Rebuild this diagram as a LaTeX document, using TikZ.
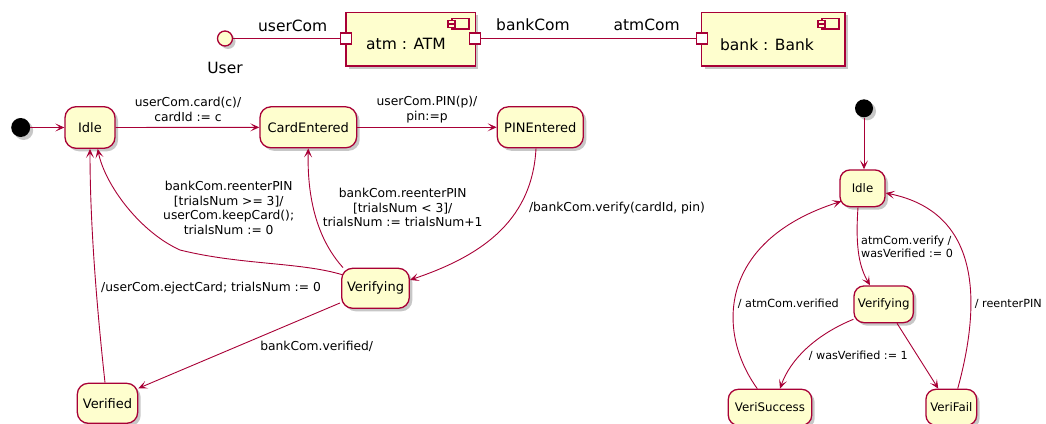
\documentclass[tikz,border=0pt]{standalone}
\usepackage{fontspec}
\setmainfont{DejaVu Sans}
\usetikzlibrary{arrows.meta,shadows}
\definecolor{umlred}{HTML}{A80036}
\definecolor{umlfill}{HTML}{FEFECE}
\begin{document}
\begin{tikzpicture}[x=1pt,y=-1pt,
  shad/.style={drop shadow={shadow xshift=3pt,shadow yshift=-3pt,fill=black,opacity=0.22}},
  st/.style={draw=umlred,fill=umlfill,line width=1.3pt,rounded corners=11pt,inner sep=0pt,font=\fontsize{13}{15}\selectfont,shad},
  sst/.style={st,font=\fontsize{11.8}{14}\selectfont,rounded corners=10pt},
  lbl/.style={font=\fontsize{12.3}{14.7}\selectfont,align=center,inner sep=0pt},
  slbl/.style={font=\fontsize{11.2}{12.7}\selectfont,align=center,inner sep=0pt},
  tr/.style={draw=umlred,line width=0.9pt,-{Stealth[length=9pt,width=8pt,inset=4.5pt]}},
  initdot/.style={circle,fill=black,minimum size=19pt,inner sep=0pt,shad},
  comp/.style={draw=umlred,fill=umlfill,line width=1.3pt,shad,inner sep=0pt},
  port/.style={draw=umlred,fill=white,line width=1.3pt,minimum size=11pt,inner sep=0pt},
  clbl/.style={font=\fontsize{15.5}{18}\selectfont,inner sep=0pt},
  conn/.style={draw=umlred,line width=0.9pt},
]
\useasboundingbox (0,0) rectangle (1046,423);

% ---------- component part ----------
\node[circle,draw=umlred,fill=umlfill,line width=1.3pt,minimum size=15pt,inner sep=0pt,shad] (user) at (225,38.5) {};
\node[clbl] (userlbl) at (225,68) {User};
\node[comp,minimum width=129.3pt,minimum height=53.7pt] (atm) at (410.65,39.15) {};
\node[clbl] (atmtxt) at (406,44.3) {atm : ATM};
\node[comp,minimum width=143.3pt,minimum height=53.7pt] (bank) at (773.35,39.15) {};
\node[clbl] (banktxt) at (767,44.3) {bank : Bank};
% component icons
\foreach \bx in {452,822}{
  \draw[umlred,line width=1.1pt,fill=umlfill] (\bx,18.5) rectangle (\bx+17,29);
  \draw[umlred,line width=1.1pt,fill=umlfill] (\bx-4,20.5) rectangle (\bx+3,23.2);
  \draw[umlred,line width=1.1pt,fill=umlfill] (\bx-4,24.5) rectangle (\bx+3,27.2);
}
\node[port] (p1) at (346,38.5) {};
\node[port] (p2) at (475.3,38.5) {};
\node[port] (p3) at (701.7,38.5) {};
\draw[conn] (user) -- (p1);
\draw[conn] (p2) -- (p3);
\node[clbl] (l1) at (292.7,26) {userCom};
\node[clbl] (l2) at (533,25) {bankCom};
\node[clbl] (l3) at (646.7,25) {atmCom};

% ---------- ATM state machine ----------
\node[initdot] (i1) at (20.7,127.5) {};
\node[st,minimum width=50pt,minimum height=41.6pt] (idle) at (90,127.5) {Idle};
\node[st,minimum width=96.7pt,minimum height=41pt] (card) at (308.3,127.3) {CardEntered};
\node[st,minimum width=86pt,minimum height=41pt] (pin) at (540.3,127.3) {PINEntered};
\node[st,minimum width=67.6pt,minimum height=40pt] (ver) at (375.5,288.3) {Verifying};
\node[st,minimum width=60.4pt,minimum height=40pt] (vd) at (107.5,403.3) {Verified};

\draw[tr] (i1) -- (idle);
\draw[tr] (idle) -- (card);
\node[lbl] (e1) at (188,109.3) {userCom.card(c)/\\cardId := c};
\draw[tr] (card) -- (pin);
\node[lbl] (e2) at (427,109.3) {userCom.PIN(p)/\\pin:=p};
\draw[tr] (pin.south -| 536,0) .. controls (532,225) and (475,258) .. (ver.east |- 0,280);
\node[lbl] (e3) at (617,208) {/bankCom.verify(cardId, pin)};
\coordinate (v1) at ([shift={(2,0)}]ver.north west);
\coordinate (v2) at ([shift={(1,7)}]ver.north west);
\coordinate (v3) at ([shift={(-1,-6)}]ver.south west);
\draw[tr] (v1) .. controls (318,240) and (307,200) .. (card.south);
\draw[tr] (v2) .. controls (300,262) and (240,265) .. (180,250) .. controls (140,232) and (105,185) .. (idle.south -| 97.7,0);
\node[lbl] (e4) at (228.7,208) {bankCom.reenterPIN\\{}[trialsNum >= 3]/\\userCom.keepCard();\\trialsNum := 0};
\node[lbl] (e5) at (402.7,207.7) {bankCom.reenterPIN\\{}[trialsNum < 3]/\\trialsNum := trialsNum+1};
\draw[tr] (vd.north -| 105,0) .. controls (96,300) and (90,220) .. (idle.south -| 90,0);
\node[lbl] (e6) at (211,288.3) {/userCom.ejectCard; trialsNum := 0};
\draw[tr] (v3) -- (vd.north east |- 0,388.3);
\node[lbl] (e7) at (316.7,346.7) {bankCom.verified/};

% ---------- Bank state machine ----------
\node[initdot,minimum size=18pt] (i2) at (864,108.3) {};
\node[sst,minimum width=45pt,minimum height=36.7pt] (idle2) at (862.5,188.3) {Idle};
\node[sst,minimum width=59.3pt,minimum height=36.7pt] (ver2) at (883.7,304.3) {Verifying};
\node[sst,minimum width=83.4pt,minimum height=36pt] (succ) at (770,407.3) {VeriSuccess};
\node[sst,minimum width=50.7pt,minimum height=36pt] (fail) at (951.3,407.3) {VeriFail};

\coordinate (w1) at ([shift={(0,-4)}]ver2.south west);
\coordinate (ia) at ([shift={(2,-6)}]idle2.south west);
\draw[tr] (i2) -- (idle2.north -| i2);
\draw[tr] (idle2.south -| 858,0) .. controls (855,250) and (860,268) .. (ver2.north -| 870,0);
\node[slbl,align=left,anchor=west] (e8) at (861,247) {atmCom.verify /\\wasVerified := 0};
\draw[tr] (w1) .. controls (815,335) and (790,360) .. (succ.north -| 780,0);
\node[slbl] (e9) at (858.3,356) {/ wasVerified := 1};
\draw[tr] (ver2.south -| 897,0) -- (fail.north -| 938.3,0);
\draw[tr] (succ.north -| 757.3,0) .. controls (715,330) and (720,240) .. (ia);
\node[slbl] (e10) at (788.3,304) {/ atmCom.verified};
\draw[tr] (fail.north -| 957.7,0) .. controls (982,300) and (980,212) .. (idle2.east |- 0,193);
\node[slbl] (e11) at (1008.3,304) {/ reenterPIN};
\end{tikzpicture}
\end{document}
